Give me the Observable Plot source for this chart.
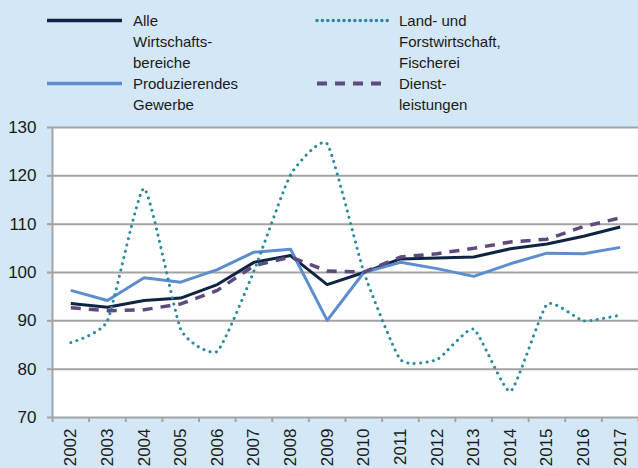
<!DOCTYPE html>
<html><head><meta charset="utf-8">
<script src="https://cdn.jsdelivr.net/npm/d3@7"></script>
<script src="https://cdn.jsdelivr.net/npm/@observablehq/plot@0.6"></script>
<style>
html,body{margin:0;padding:0;background:#d3e7f6;}
#wrap{position:relative;width:638px;height:468px;overflow:hidden;font-family:"Liberation Sans",Arial,sans-serif;background:#d3e7f6;}
#legend{position:relative;height:117px;}
.item{position:absolute;}
.item svg{position:absolute;left:0;}
.item .lbl{position:absolute;font-size:15px;line-height:21.3px;color:#1a1a1a;white-space:pre;}
#chart svg{display:block;}
</style></head><body><div id="wrap"><div id="legend"></div><div id="chart"></div></div>
<script>
const years = [2002,2003,2004,2005,2006,2007,2008,2009,2010,2011,2012,2013,2014,2015,2016,2017];
const alle   = [93.6,92.8,94.2,94.7,97.5,102.1,103.5,97.5,100.0,102.8,103.0,103.2,104.9,105.9,107.5,109.4];
const land   = [85.5,90.0,117.4,88.3,83.7,100.3,120.2,126.6,100.1,82.0,82.0,88.3,75.4,93.4,90.0,91.2];
const produz = [96.3,94.2,98.9,98.0,100.6,104.2,104.8,90.1,100.0,102.1,100.8,99.2,101.8,104.0,103.9,105.2];
const dienst = [92.7,92.1,92.3,93.5,96.3,101.4,103.2,100.3,100.1,103.2,103.9,105.0,106.3,106.9,109.5,111.3];
const yTicks = [70,80,90,100,110,120,130];

const seriesNames = ["Alle\nWirtschafts-\nbereiche","Land- und\nForstwirtschaft,\nFischerei","Produzierendes\nGewerbe","Dienst-\nleistungen"];
const seriesValues = [alle, land, produz, dienst];
const styles = [
  {stroke:"#0e2442", strokeWidth:3, dash:null, cap:"butt", curve:"linear"},
  {stroke:"#2a8b9d", strokeWidth:3, dash:"0.1,6.3", cap:"round", curve:"cardinal", tension:0.5},
  {stroke:"#5b8dcf", strokeWidth:3, dash:null, cap:"butt", curve:"linear"},
  {stroke:"#5f4a7f", strokeWidth:3.5, dash:"10,8", cap:"butt", curve:"linear"}
];

// legend
const legend = document.getElementById("legend");
seriesNames.forEach((name, i) => {
  const col = i % 2, row = Math.floor(i / 2);
  const st = styles[i];
  const item = document.createElement("div");
  item.className = "item";
  item.style.left = (col ? 315 : 47) + "px";
  item.style.top = (row ? 72.5 : 9.5) + "px";
  const ns = "http://www.w3.org/2000/svg";
  const svg = document.createElementNS(ns, "svg");
  svg.setAttribute("width", 78); svg.setAttribute("height", 21);
  const ln = document.createElementNS(ns, "line");
  ln.setAttribute("x1", col ? 2 : 0); ln.setAttribute("x2", col ? 74 : 75);
  ln.setAttribute("y1", 10.5); ln.setAttribute("y2", 10.5);
  ln.setAttribute("stroke", st.stroke); ln.setAttribute("stroke-width", st.strokeWidth + 0.5);
  ln.setAttribute("stroke-linecap", st.cap);
  if (st.dash) ln.setAttribute("stroke-dasharray", col && i === 1 ? "0.1,5.3" : st.dash);
  svg.appendChild(ln);
  item.appendChild(svg);
  const lbl = document.createElement("div");
  lbl.className = "lbl";
  lbl.style.left = (col ? 84 : 86) + "px";
  lbl.style.top = "0px";
  lbl.textContent = name;
  item.appendChild(lbl);
  legend.appendChild(item);
});

const data = [];
seriesValues.forEach((vals, s) => vals.forEach((v, j) => data.push({series: s, year: years[j], value: v})));

const boundaries = years.map(y => y - 0.5).concat([years[years.length - 1] + 0.5]);

const lineMarks = styles.map((st, s) => Plot.line(data.filter(d => d.series === s), {
  x: "year", y: "value", stroke: st.stroke, strokeWidth: st.strokeWidth,
  strokeDasharray: st.dash || undefined, strokeLinecap: st.cap, strokeLinejoin: "round",
  curve: st.curve, ...(st.tension != null ? {tension: st.tension} : {})
}));
// draw order: Alle, Produzierendes, Land, Dienst
const ordered = [lineMarks[0], lineMarks[2], lineMarks[1], lineMarks[3]];

const chart = Plot.plot({
  width: 638, height: 351,
  marginTop: 10, marginLeft: 52, marginRight: 0, marginBottom: 51,
  x: {domain: [boundaries[0], boundaries[boundaries.length - 1]], label: null},
  y: {domain: [70, 130], label: null},
  style: {background: "transparent", fontFamily: "'Liberation Sans', Arial, sans-serif", fontSize: "17px", color: "#1a1a1a", overflow: "visible"},
  marks: [
    Plot.frame({fill: "white", stroke: null}),
    Plot.gridY(yTicks, {stroke: "#a3a3a3", strokeOpacity: 1, strokeWidth: 2}),
    Plot.ruleX([boundaries[0]], {stroke: "#a3a3a3", strokeWidth: 2}),
    Plot.axisY(yTicks, {tickSize: 5, tickPadding: 11, stroke: "#a3a3a3", strokeWidth: 2, fill: "#1a1a1a", fontSize: 17}),
    Plot.axisX(boundaries, {tickSize: 5, tickFormat: () => "", stroke: "#a3a3a3", strokeWidth: 2}),
    Plot.axisX(years, {tickSize: 0, tickRotate: -90, tickPadding: 11, tickFormat: d => String(d), fill: "#1a1a1a", fontSize: 17}),
    ...ordered
  ]
});
document.getElementById("chart").appendChild(chart);
</script>
</body></html>
